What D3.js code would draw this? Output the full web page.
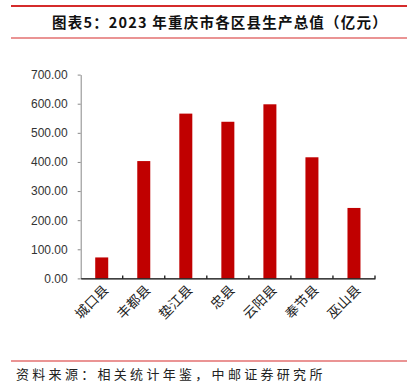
<!DOCTYPE html>
<html><head><meta charset="utf-8">
<script src="https://cdn.jsdelivr.net/npm/d3@7/dist/d3.min.js"></script>
<style>body{margin:0;background:#fff;}svg{display:block;}</style>
</head><body>
<svg id="c" width="407" height="390"></svg>
<script>
const categories = ["城口县","丰都县","垫江县","忠县","云阳县","奉节县","巫山县"];
const values = [72, 403, 566, 538, 598, 416, 242];
const yTicks = [0,100,200,300,400,500,600,700];
const title = "图表5：2023 年重庆市各区县生产总值（亿元）";
const source = "资料来源：相关统计年鉴，中邮证券研究所";

const svg = d3.select("#c");
const m = {left:80.7, right:375, top:74.6, bottom:278.4};
const x = d3.scaleBand().domain(categories).range([m.left, m.right]).paddingInner(0).paddingOuter(0);
const y = d3.scaleLinear().domain([0,700]).range([m.bottom, m.top]);

// header lines
svg.append("line").attr("x1",11).attr("x2",407).attr("y1",6).attr("y2",6).attr("stroke","#d52b2b").attr("stroke-width",2);
svg.append("line").attr("x1",11).attr("x2",407).attr("y1",38).attr("y2",38).attr("stroke","#d52b2b").attr("stroke-width",1.2);
svg.append("text").attr("x",52).attr("y",28).attr("font-family","'Noto Sans CJK SC'").attr("font-weight","bold")
  .attr("font-size",14.5).attr("letter-spacing",1.2).attr("fill","#111").text(title);

// bars
const bw = 13;
svg.append("g").selectAll("rect").data(values).join("rect")
  .attr("x",(d,i)=>x(categories[i])+x.bandwidth()/2-bw/2)
  .attr("width",bw)
  .attr("y",d=>y(d)).attr("height",d=>y(0)-y(d))
  .attr("fill","#c00000");

// y axis
const ya = svg.append("g").attr("transform",`translate(${m.left},0)`)
  .call(d3.axisLeft(y).tickValues(yTicks).tickFormat(d3.format(".2f")).tickSize(3).tickSizeOuter(0));
ya.select(".domain").attr("stroke","#888");
ya.selectAll(".tick line").attr("stroke","#888");
ya.selectAll(".tick text").attr("font-family","'Liberation Sans',Arial,sans-serif").attr("font-size",12).attr("fill","#333").attr("x",-13);

// x axis
const xa = svg.append("g").attr("transform",`translate(0,${m.bottom})`)
  .call(d3.axisBottom(x).tickSize(0).tickSizeOuter(0));
xa.select(".domain").attr("stroke","#000").attr("stroke-width",1.3);
xa.selectAll(".tick text").remove();
const bounds = categories.map(c=>x(c)+x.bandwidth());
xa.selectAll(".btick").data(bounds).join("line").attr("class","btick")
  .attr("x1",d=>d).attr("x2",d=>d).attr("y1",0).attr("y2",-3).attr("stroke","#000").attr("stroke-width",1.2);

// x labels
svg.append("g").selectAll("text").data(categories).join("text")
  .attr("transform",d=>`translate(${x(d)+x.bandwidth()/2+5},${m.bottom+10}) rotate(-45)`)
  .attr("text-anchor","end").attr("dominant-baseline","middle")
  .attr("font-family","'Noto Sans CJK SC'").attr("font-size",13.5).attr("fill","#222").text(d=>d);

// footer
svg.append("line").attr("x1",11).attr("x2",407).attr("y1",361).attr("y2",361).attr("stroke","#d52b2b").attr("stroke-width",1.2);
svg.append("text").attr("x",16).attr("y",379).attr("font-family","'Noto Sans CJK SC'")
  .attr("font-size",13).attr("letter-spacing",3.3).attr("fill","#222").text(source);
</script>
</body></html>
